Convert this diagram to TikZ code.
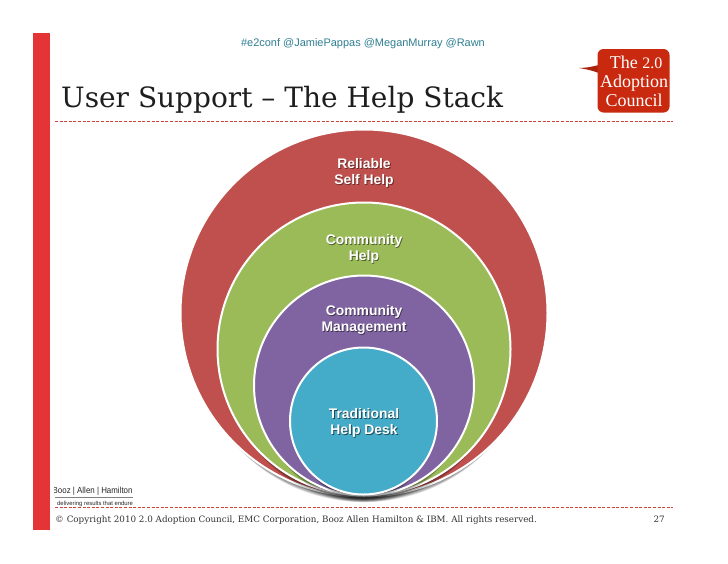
\documentclass[tikz,border=0pt]{standalone}
\usepackage{fontspec}
\setmainfont{DejaVu Serif}
\newfontfamily\hdsans{Liberation Sans}
\newfontfamily\logoserif{Liberation Serif}
\newfontfamily\bahsans[FakeStretch=0.9]{Liberation Sans}
\definecolor{barred}{HTML}{E43435}
\definecolor{dashred}{HTML}{C8443C}
\definecolor{cred}{HTML}{C0504D}
\definecolor{cgreen}{HTML}{9BBB59}
\definecolor{cpurple}{HTML}{8064A2}
\definecolor{cblue}{HTML}{44ABC8}
\definecolor{logored}{HTML}{C8290F}
\definecolor{hdtext}{HTML}{2F7F93}
\definecolor{titletext}{HTML}{1E1E1E}
\newcommand{\shadowed}[2]{\leavevmode\rlap{\kern0.9pt\raisebox{-0.9pt}{\textcolor{#1}{#2}}}\textcolor{white}{#2}}
\newcommand{\softshadow}[4]{% x, y, r, strength
  \foreach \o in {16,14,...,4}{
    \fill[black,opacity=#4] (#1,{#2+\o}) circle ({#3-0.62*\o});
  }
}
\tikzset{
  x=1pt,y=-1pt,
  disc/.style={circle,draw=white,line width=2pt,minimum size=#1,inner sep=0pt},
  dashrule/.style={draw=dashred,line width=0.6pt,dash pattern=on 3pt off 1.6pt},
  disclabel/.style={font=\hdsans\bfseries\fontsize{13.9}{16}\selectfont,align=center,inner sep=0pt},
  footertext/.style={font=\fontsize{8.77}{10}\selectfont,text=black!80,inner sep=0pt},
  logotext/.style={anchor=base,inner sep=0pt,text=white,font=\logoserif\fontsize{18}{18}\selectfont}
}
\begin{document}
\begin{tikzpicture}
\useasboundingbox (0,0) rectangle (728,563);
\fill[white] (0,0) rectangle (728,563);
\fill[barred] (33,33) rectangle (50,530);
\coordinate (r1l) at (55,121); \coordinate (r1r) at (673,121);
\coordinate (r2l) at (55,507); \coordinate (r2r) at (673,507);
\draw[dashrule] (r1l) -- (r1r);
\draw[dashrule] (r2l) -- (r2r);
\node[anchor=base,inner sep=0pt,text=hdtext,font=\hdsans\fontsize{10.97}{12}\selectfont] (hd) at (363,46) {\#e2conf @JamiePappas @MeganMurray @Rawn};
\node[anchor=base west,inner sep=0pt,text=titletext,font=\fontsize{28}{32}\selectfont] (title) at (61,107) {User Support – The Help Stack};
% logo
\fill[logored!85!black] (579,68) .. controls (588,67.5) .. (599,65) -- (599,73) .. controls (590,70) .. cycle;
\fill[logored,rounded corners=6pt] (597.5,49) rectangle (669.5,112.5);
\node[logotext] (logo1) at (636,68) {The {\fontsize{16}{16}\selectfont 2.0}};
\node[logotext] (logo2) at (634,87) {Adoption};
\node[logotext] (logo3) at (634,106) {Council};
% discs
\softshadow{364}{313}{183}{0.10}
\node[disc=367pt,fill=cred] (red) at (364,313) {};
\softshadow{364}{349.5}{146.5}{0.07}
\node[disc=293pt,fill=cgreen] (green) at (364,349) {};
\softshadow{364}{386}{110}{0.07}
\node[disc=220pt,fill=cpurple] (purple) at (364,385.5) {};
\softshadow{363.5}{421}{73.5}{0.08}
\node[disc=147pt,fill=cblue] (blue) at (363.5,421) {};
\node[disclabel] (l1) at (364,173.5) {\shadowed{cred!55!black}{Reliable}\\\shadowed{cred!55!black}{Self Help}};
\node[disclabel] (l2) at (364,249) {\shadowed{cgreen!50!black}{Community}\\\shadowed{cgreen!50!black}{Help}};
\node[disclabel] (l3) at (364,320) {\shadowed{cpurple!50!black}{Community}\\\shadowed{cpurple!50!black}{Management}};
\node[disclabel] (l4) at (364,423) {\shadowed{cblue!45!black}{Traditional}\\\shadowed{cblue!45!black}{Help Desk}};
% booz allen
\begin{scope}
\clip (54,480) rectangle (140,506.5);
\node[anchor=base west,inner sep=0pt,text=black!85,font=\bahsans\fontsize{8.8}{10}\selectfont] (ba) at (52.5,493) {Booz | Allen | Hamilton};
\node[anchor=base west,inner sep=0pt,text=black!85,font=\hdsans\fontsize{5.9}{6}\selectfont] (ba2) at (57,505) {delivering results that endure};
\end{scope}
\coordinate (bal) at (55,497.5); \coordinate (bar) at (133,497.5);
\draw[black!50,line width=0.5pt] (bal) -- (bar);
% footer
\node[anchor=base west,footertext] (foot) at (55,522) {© Copyright 2010 2.0 Adoption Council, EMC Corporation, Booz Allen Hamilton \& IBM. All rights reserved.};
\node[anchor=base east,footertext] (page) at (665,522) {27};
\end{tikzpicture}
\end{document}
